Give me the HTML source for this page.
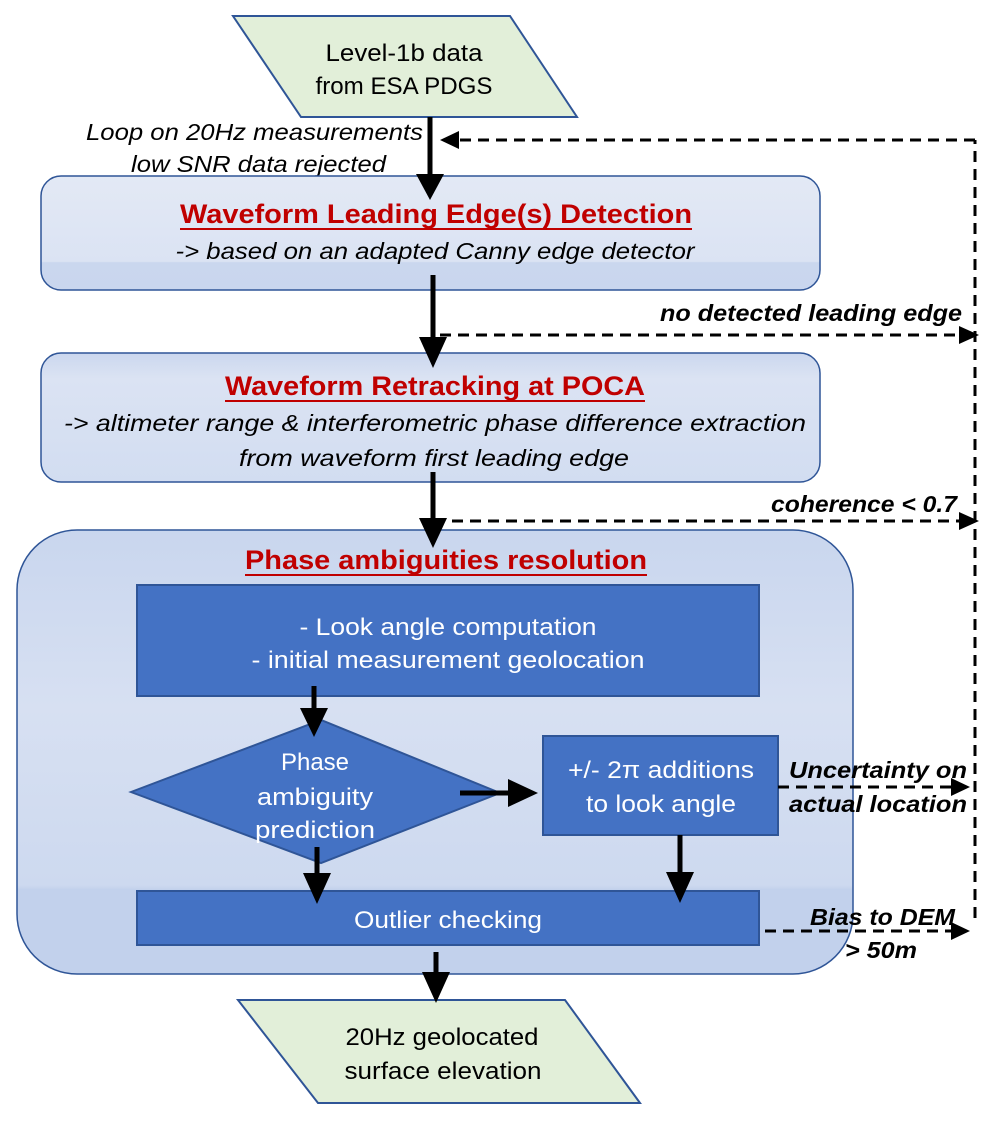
<!DOCTYPE html>
<html><head><meta charset="utf-8"><style>
html,body{margin:0;padding:0;background:#fff;}
svg{display:block;}
text{font-family:"Liberation Sans",sans-serif;}
</style></head><body>
<svg width="989" height="1122" viewBox="0 0 989 1122" xmlns="http://www.w3.org/2000/svg">
<defs>
<linearGradient id="g1" x1="0" y1="0" x2="0" y2="1">
<stop offset="0" stop-color="#e3e9f5"/><stop offset="0.75" stop-color="#dbe3f3"/><stop offset="0.76" stop-color="#cad7ee"/><stop offset="1" stop-color="#c9d6ee"/>
</linearGradient>
<linearGradient id="g2" x1="0" y1="0" x2="0" y2="1">
<stop offset="0" stop-color="#cbd7ee"/><stop offset="0.2" stop-color="#dbe3f3"/><stop offset="1" stop-color="#d2ddf1"/>
</linearGradient>
<linearGradient id="g3" x1="0" y1="0" x2="0" y2="1">
<stop offset="0" stop-color="#c9d6ee"/><stop offset="0.4" stop-color="#d7e0f2"/><stop offset="0.8" stop-color="#cdd9ef"/><stop offset="0.81" stop-color="#c2d1ec"/><stop offset="1" stop-color="#c2d1ec"/>
</linearGradient>
</defs>

<!-- top input -->
<polygon points="233,16 510,16 577,117 301,117" fill="#e2efd9" stroke="#2f5597" stroke-width="2"/>
<text x="404" y="61" font-size="24" text-anchor="middle" textLength="157" lengthAdjust="spacingAndGlyphs">Level-1b data</text>
<text x="404" y="94" font-size="24" text-anchor="middle" textLength="177" lengthAdjust="spacingAndGlyphs">from ESA PDGS</text>

<text x="86" y="140" font-size="23" font-style="italic" textLength="337" lengthAdjust="spacingAndGlyphs">Loop on 20Hz measurements</text>
<text x="131" y="172" font-size="23" font-style="italic" textLength="255" lengthAdjust="spacingAndGlyphs">low SNR data rejected</text>

<!-- box 1 -->
<rect x="41" y="176" width="779" height="114" rx="20" fill="url(#g1)" stroke="#2f5597" stroke-width="1.5"/>
<text x="436" y="223" font-size="27" font-weight="bold" fill="#c00000" text-anchor="middle" textLength="512" lengthAdjust="spacingAndGlyphs">Waveform Leading Edge(s) Detection</text>
<line x1="180" y1="229" x2="692" y2="229" stroke="#c00000" stroke-width="2"/>
<text x="435" y="259" font-size="23" font-style="italic" text-anchor="middle" textLength="519" lengthAdjust="spacingAndGlyphs">-&gt; based on an adapted Canny edge detector</text>

<!-- box 2 -->
<rect x="41" y="353" width="779" height="129" rx="20" fill="url(#g2)" stroke="#2f5597" stroke-width="1.5"/>
<text x="435" y="395" font-size="27" font-weight="bold" fill="#c00000" text-anchor="middle" textLength="420" lengthAdjust="spacingAndGlyphs">Waveform Retracking at POCA</text>
<line x1="225" y1="401" x2="645" y2="401" stroke="#c00000" stroke-width="2"/>
<text x="435" y="431" font-size="23" font-style="italic" text-anchor="middle" textLength="742" lengthAdjust="spacingAndGlyphs">-&gt; altimeter range &amp; interferometric phase difference extraction</text>
<text x="434" y="466" font-size="23" font-style="italic" text-anchor="middle" textLength="390" lengthAdjust="spacingAndGlyphs">from waveform first leading edge</text>

<!-- big box -->
<rect x="17" y="530" width="836" height="444" rx="60" fill="url(#g3)" stroke="#2f5597" stroke-width="1.5"/>
<text x="446" y="569" font-size="27" font-weight="bold" fill="#c00000" text-anchor="middle" textLength="402" lengthAdjust="spacingAndGlyphs">Phase ambiguities resolution</text>
<line x1="245" y1="575" x2="647" y2="575" stroke="#c00000" stroke-width="2"/>

<rect x="137" y="585" width="622" height="111" fill="#4472c4" stroke="#2f5597" stroke-width="2"/>
<text x="448" y="635" font-size="24" fill="#fff" text-anchor="middle" textLength="297" lengthAdjust="spacingAndGlyphs">- Look angle computation</text>
<text x="448" y="668" font-size="24" fill="#fff" text-anchor="middle" textLength="393" lengthAdjust="spacingAndGlyphs">- initial measurement geolocation</text>

<!-- diamond -->
<polygon points="131,792 321,720 500,793 321,863" fill="#4472c4" stroke="#2f5597" stroke-width="2"/>
<text x="315" y="770" font-size="24" fill="#fff" text-anchor="middle" textLength="68" lengthAdjust="spacingAndGlyphs">Phase</text>
<text x="315" y="805" font-size="24" fill="#fff" text-anchor="middle" textLength="116" lengthAdjust="spacingAndGlyphs">ambiguity</text>
<text x="315" y="838" font-size="24" fill="#fff" text-anchor="middle" textLength="120" lengthAdjust="spacingAndGlyphs">prediction</text>

<!-- +/- box -->
<rect x="543" y="736" width="235" height="99" fill="#4472c4" stroke="#2f5597" stroke-width="2"/>
<text x="661" y="778" font-size="24" fill="#fff" text-anchor="middle" textLength="186" lengthAdjust="spacingAndGlyphs">+/- 2π additions</text>
<text x="661" y="812" font-size="24" fill="#fff" text-anchor="middle" textLength="150" lengthAdjust="spacingAndGlyphs">to look angle</text>

<!-- outlier -->
<rect x="137" y="891" width="622" height="54" fill="#4472c4" stroke="#2f5597" stroke-width="2"/>
<text x="448" y="928" font-size="24" fill="#fff" text-anchor="middle" textLength="188" lengthAdjust="spacingAndGlyphs">Outlier checking</text>

<!-- bottom output -->
<polygon points="238,1000 565,1000 640,1103 318,1103" fill="#e2efd9" stroke="#2f5597" stroke-width="2"/>
<text x="442" y="1045" font-size="24" text-anchor="middle" textLength="193" lengthAdjust="spacingAndGlyphs">20Hz geolocated</text>
<text x="443" y="1079" font-size="24" text-anchor="middle" textLength="197" lengthAdjust="spacingAndGlyphs">surface elevation</text>

<!-- solid arrows -->
<g stroke="#000" stroke-width="5" fill="none">
<line x1="430" y1="117" x2="430" y2="176"/>
<line x1="433" y1="275" x2="433" y2="340"/>
<line x1="433" y1="472" x2="433" y2="520"/>
<line x1="314" y1="686" x2="314" y2="710"/>
<line x1="460" y1="793" x2="510" y2="793"/>
<line x1="317" y1="847" x2="317" y2="876"/>
<line x1="680" y1="835" x2="680" y2="874"/>
<line x1="436" y1="952" x2="436" y2="975"/>
</g>
<g fill="#000">
<polygon points="416,174 444,174 430,200"/>
<polygon points="419,337 447,337 433,368"/>
<polygon points="419,518 447,518 433,548"/>
<polygon points="300,708 328,708 314,737"/>
<polygon points="508,779 508,807 538,793"/>
<polygon points="303,873 331,873 317,904"/>
<polygon points="666,872 694,872 680,903"/>
<polygon points="422,972 450,972 436,1003"/>
</g>

<!-- dashed -->
<g stroke="#000" stroke-width="3" stroke-dasharray="11,7" fill="none">
<line x1="975" y1="918" x2="975" y2="140"/>
<line x1="975" y1="140" x2="455" y2="140"/>
<line x1="440" y1="335" x2="962" y2="335"/>
<line x1="452" y1="521" x2="962" y2="521"/>
<line x1="778" y1="787" x2="955" y2="787"/>
<line x1="765" y1="931" x2="955" y2="931"/>
</g>
<g fill="#000">
<polygon points="440,140 459,131 459,149"/>
<polygon points="979,335 959,326 959,344"/>
<polygon points="979,521 959,512 959,530"/>
<polygon points="970,787 951,778 951,796"/>
<polygon points="970,931 951,922 951,940"/>
</g>

<!-- dashed labels -->
<g font-size="23" font-style="italic" font-weight="bold">
<text x="660" y="321" textLength="302" lengthAdjust="spacingAndGlyphs">no detected leading edge</text>
<text x="771" y="512" textLength="186" lengthAdjust="spacingAndGlyphs">coherence &lt; 0.7</text>
<text x="789" y="778" textLength="178" lengthAdjust="spacingAndGlyphs">Uncertainty on</text>
<text x="789" y="812" textLength="178" lengthAdjust="spacingAndGlyphs">actual location</text>
<text x="810" y="925" textLength="145" lengthAdjust="spacingAndGlyphs">Bias to DEM</text>
<text x="845" y="958" textLength="72" lengthAdjust="spacingAndGlyphs">&gt; 50m</text>
</g>
</svg>
</body></html>
